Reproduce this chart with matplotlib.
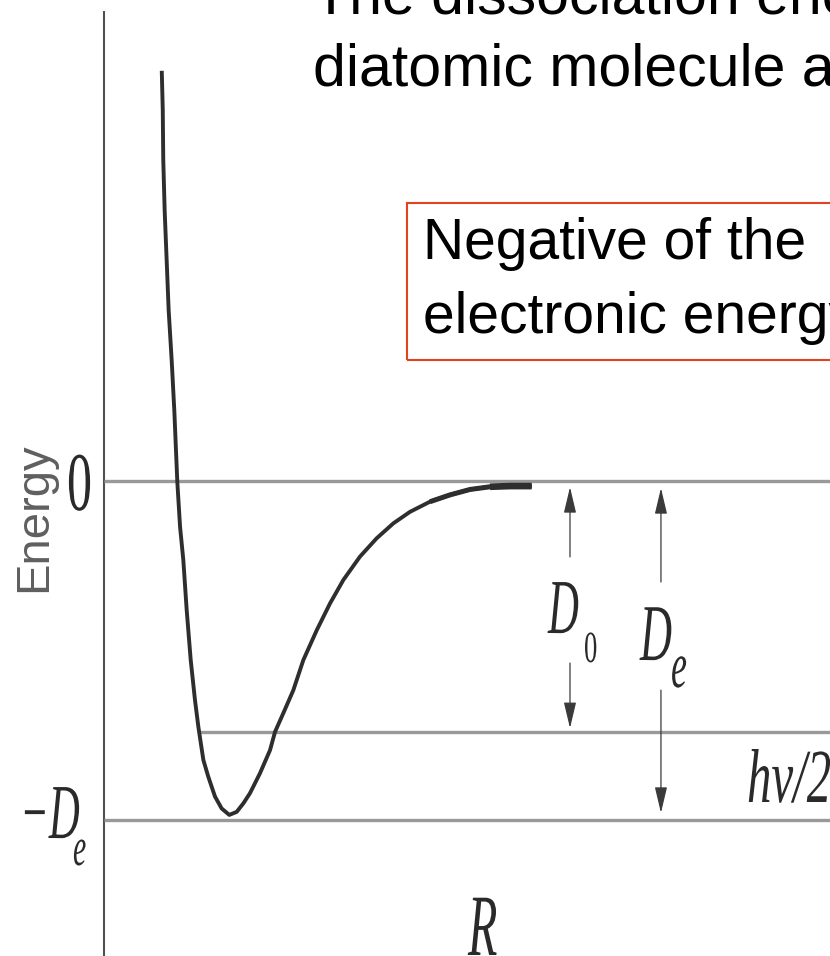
import numpy as np
import matplotlib
matplotlib.use('Agg')
import matplotlib.pyplot as plt
import matplotlib.patheffects as pe
from matplotlib.patches import Rectangle
from matplotlib.transforms import Affine2D

# Potential energy curve of a diatomic molecule
# R in units of the equilibrium bond length, E in units of De
R_curve = [0.461, 0.469, 0.473, 0.484, 0.500, 0.516, 0.540, 0.561, 0.585, 0.607,
           0.633, 0.660, 0.692, 0.726, 0.753, 0.793, 0.832, 0.886, 0.939, 1.000,
           1.059, 1.112, 1.165, 1.245, 1.325, 1.365, 1.431, 1.511, 1.591, 1.698,
           1.804, 1.910, 2.043, 2.176, 2.309, 2.442, 2.602, 2.761, 2.921, 3.081,
           3.240, 3.413]
E_curve = [1.210, 1.094, 0.947, 0.799, 0.652, 0.504, 0.357, 0.209, -0.002, -0.135,
           -0.233, -0.381, -0.528, -0.646, -0.725, -0.823, -0.872, -0.931, -0.966, -0.985,
           -0.976, -0.951, -0.921, -0.862, -0.794, -0.740, -0.685, -0.617, -0.528, -0.440,
           -0.361, -0.292, -0.223, -0.169, -0.125, -0.091, -0.061, -0.041, -0.025, -0.017,
           -0.015, -0.015]

# energy levels: dissociation limit, zero-point level, well bottom
E_zero = 0.0
E_zpe = -0.739
E_well = -1.0
R_zpe_start = 0.766

# double arrows for D0 and De (x position, tip energies, gap left for the label)
R_D0, D0_tips, D0_gap = 3.719, (-0.018, -0.729), (-0.224, -0.537)
R_De, De_tips, De_gap = 4.445, (-0.021, -0.979), (-0.298, -0.617)

W, H = 830, 956
ORIGIN_X, ORIGIN_Y = 104, 481      # pixel position of R=0, E=0
PX_R, PX_E = 125.3, 339.0          # pixels per unit


class Squeeze(pe.AbstractPathEffect):
    """Narrow the glyphs horizontally about the text's left edge."""
    def __init__(self, sx):
        super().__init__()
        self.sx = sx

    def draw_path(self, renderer, gc, tpath, affine, rgbFace=None):
        tx = affine.get_matrix()[0, 2]
        narrow = Affine2D().translate(-tx, 0).scale(self.sx, 1).translate(tx, 0)
        renderer.draw_path(gc, tpath, affine + narrow, rgbFace)


def fx(x):
    return x / W


def fy(y):
    return 1 - y / H


fig = plt.figure(figsize=(W / 100, H / 100), dpi=100)
ax = fig.add_axes([0, 0, 1, 1])
ax.set_xlim(-ORIGIN_X / PX_R, (W - ORIGIN_X) / PX_R)
ax.set_ylim(-(H - ORIGIN_Y) / PX_E, ORIGIN_Y / PX_E)
ax.axis('off')

line_col = '#999999'
ink = '#2e2e2e'

# energy axis
ax.plot([0, 0], [-(H - ORIGIN_Y) / PX_E, (ORIGIN_Y - 11) / PX_E], color='#505050', lw=1.5, solid_capstyle='butt')

# horizontal levels
xmax = (W - ORIGIN_X) / PX_R
ax.plot([0, xmax], [E_zero, E_zero], color=line_col, lw=2.4, solid_capstyle='butt')
ax.plot([R_zpe_start, xmax], [E_zpe, E_zpe], color=line_col, lw=2.4, solid_capstyle='butt')
ax.plot([0, xmax], [E_well, E_well], color=line_col, lw=2.4, solid_capstyle='butt')

# potential curve, drawn heavier towards the dissociation limit
R = np.array(R_curve)
E = np.array(E_curve)
ax.plot(R, E, color=ink, lw=2.8, zorder=5, solid_capstyle='butt', solid_joinstyle='round')
tail = R >= 2.6
ax.plot(R[tail], E[tail], color=ink, lw=3.6, zorder=5, solid_capstyle='butt', solid_joinstyle='round')
tail = R >= 3.0
ax.plot(R[tail], E[tail], color=ink, lw=4.8, zorder=5, solid_capstyle='butt', solid_joinstyle='round')

# D0 / De arrows
arrow_kw = dict(arrowstyle='-|>,head_length=1.6,head_width=0.38', color='#3a3a3a',
                lw=0.9, shrinkA=0, shrinkB=0, mutation_scale=10)
for xr, tips, gap in [(R_D0, D0_tips, D0_gap), (R_De, De_tips, De_gap)]:
    ax.annotate('', xy=(xr, tips[0]), xytext=(xr, gap[0]), arrowprops=arrow_kw)
    ax.annotate('', xy=(xr, tips[1]), xytext=(xr, gap[1]), arrowprops=arrow_kw)

# condensed italic labels
serif = 'Liberation Serif'


def label(x, y, s, size, style='italic', sx=0.55, color='#2a2a2a'):
    fig.text(fx(x), fy(y), s, fontsize=size, family=serif, style=style, color=color,
             ha='left', va='baseline', path_effects=[Squeeze(sx)])


label(67, 510, '0', 60, style='normal', sx=0.6)
label(20, 838, '\u2212D', 56)
label(73, 865, 'e', 39)
label(548, 633, 'D', 56)
label(584, 662, '0', 32, style='normal', sx=0.6)
label(640, 660, 'D', 58)
label(671, 687, 'e', 47)
label(747, 802, 'h\u03bd/2', 55, sx=0.64)
label(468, 955, 'R', 63)

fig.text(fx(34), fy(517), 'Energy', rotation=90, ha='center', va='center',
         fontsize=34, color='#5f5f5f', family='Liberation Sans')

# slide title and callout
fig.text(fx(313), fy(14), 'The dissociation energy of a', fontsize=42.5,
         family='Liberation Sans', color='black', va='baseline')
fig.text(fx(313), fy(86), 'diatomic molecule and', fontsize=42.5,
         family='Liberation Sans', color='black', va='baseline')

box = Rectangle((fx(407), fy(360)), fx(450), 157 / H, transform=fig.transFigure,
                fill=False, edgecolor='#e2421d', lw=1.5)
fig.add_artist(box)
fig.text(fx(423), fy(259), 'Negative of the', fontsize=41,
         family='Liberation Sans', color='black', va='baseline')
fig.text(fx(423), fy(333), 'electronic energy', fontsize=41,
         family='Liberation Sans', color='black', va='baseline')

fig.savefig('out.png', dpi=100, facecolor='white')
